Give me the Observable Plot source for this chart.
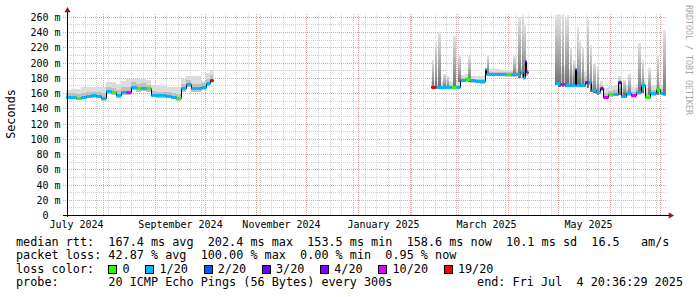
<!DOCTYPE html>
<html><head><meta charset="utf-8">
<script src="https://cdn.jsdelivr.net/npm/d3@7"></script>
<script src="https://cdn.jsdelivr.net/npm/@observablehq/plot@0.6"></script>
<style>
html,body{margin:0;padding:0;background:#fff;}
svg text{font-family:"DejaVu Sans Mono",monospace;}
</style></head><body><div id="chart"></div>
<script>
// ---------- data ----------
const yTicks = [0,20,40,60,80,100,120,140,160,180,200,220,240,260];
const yMinor = [10,30,50,70,90,110,130,150,170,190,210,230,250];
const xLabels = ["July 2024","September 2024","November 2024","January 2025","March 2025","May 2025"];
const xLabelDates = ["2024-07-16","2024-09-16","2024-11-16","2025-01-16","2025-03-19","2025-05-19"];

// segment 1 (Jul - Oct 2024)
const s1Dates = ["2024-07-10","2024-07-13","2024-07-16","2024-07-19","2024-07-22","2024-07-25","2024-07-28","2024-07-31","2024-08-03","2024-08-06","2024-08-09","2024-08-12","2024-08-15","2024-08-18","2024-08-21","2024-08-24","2024-08-27","2024-08-30","2024-09-02","2024-09-05","2024-09-08","2024-09-11","2024-09-14","2024-09-17","2024-09-20","2024-09-23","2024-09-26","2024-09-29","2024-10-02","2024-10-04"];
const s1End = "2024-10-06";
const s1Median = [155,155,154,155,156.5,157,156,153.5,163,161.5,157.5,162,161,168.5,166,167,166,158,157.5,157,156,155,153,166,172,166,166,167.5,173,177];
const s1Lo  = [152,152,151,152,153,154,153,150,159,158,154,158,157,164,162,163,162,155,154,154,153,152,150,162,168,162,162,164,169,173];
const s1Mid = [160,160,159,160,162,162,161,160,168,167,164,168,168,174,172,173,171,163,162,162,161,160,159,172,177,172,172,173,178,184];
const s1Hi  = [164,165,165,168,168,168,168,168,174,174,172,176,178,178,178,178,177,170,170,169,168,168,168,178,182,182,182,176,186,190];
const s1Loss = [1,1,0,1,1,1,1,1,1,0,1,1,10,1,0,1,0,1,1,1,1,1,0,1,1,1,1,1,1,19];

// segment 2 (Feb - Apr 2025)
const s2Dates = ["2025-02-14","2025-02-17","2025-02-20","2025-02-23","2025-02-26","2025-03-01","2025-03-03","2025-03-06","2025-03-09","2025-03-12","2025-03-15","2025-03-18","2025-03-19","2025-03-22","2025-03-25","2025-03-28","2025-03-31","2025-04-03","2025-04-06","2025-04-08","2025-04-10","2025-04-11","2025-04-12"];
const s2End = "2025-04-13";
const s2Median = [167.7,167.7,167.5,168,168,168,177.5,178,176.5,176,175.5,192,185,185.5,185,185,184.5,184.5,185,188,181,202,187];
const s2Lo  = [165,165,165,165,165,165,174,175,173,173,172,182,182,182,182,182,181,181,182,184,177,185,183];
const s2Mid = [171,171,171,171,171,171,180,181,179,179,178,192,188,188,188,188,187,187,188,191,185,204,191];
const s2Hi  = [176,176,175,176,175,176,184,185,183,182,182,194,191,191,191,190,190,190,191,196,193,210,198];
const s2Loss = [19,1,1,1,0,1,1,0,1,1,1,1,1,1,1,1,0,1,1,1,1,4,10];

// segment 3 (Apr - Jul 2025)
const s3Dates = ["2025-04-29","2025-05-02","2025-05-05","2025-05-08","2025-05-11","2025-05-12","2025-05-14","2025-05-17","2025-05-19","2025-05-21","2025-05-24","2025-05-26","2025-05-28","2025-05-31","2025-06-03","2025-06-06","2025-06-08","2025-06-11","2025-06-14","2025-06-17","2025-06-20","2025-06-22","2025-06-25","2025-06-29","2025-07-01","2025-07-03"];
const s3End = "2025-07-04";
const s3Median = [173,172,170.7,171,192,171,171,175,174,164,162,166,155.3,158.5,159,175,156,159.5,157.6,161.5,170.7,155.3,159.5,165,160,159];
const s3Lo  = [170,169,168,168,188,168,168,172,171,161,159,163,152,155,156,171,153,156,154,158,167,152,156,162,157,156];
const s3Mid = [185,185,183,182,198,180,180,182,180,170,167,170,160,163,164,178,161,164,162,166,175,160,164,170,165,164];
const s3Hi  = [195,195,192,190,203,188,188,190,186,176,172,176,166,169,170,182,167,170,168,172,180,166,170,176,171,170];
const s3Loss = [1,10,1,1,2,1,1,3,1,1,1,4,10,0,1,3,1,1,10,1,1,0,1,0,1,1];

// smoke spikes (max ping rtt)
const spikeDates = ["2025-02-15","2025-02-17","2025-02-19","2025-02-22","2025-02-24","2025-02-28","2025-03-03","2025-03-09","2025-03-20","2025-04-05","2025-04-08","2025-04-10","2025-04-11","2025-04-30","2025-05-01","2025-05-02","2025-05-04","2025-05-06","2025-05-07","2025-05-09","2025-05-11","2025-05-13","2025-05-14","2025-05-16","2025-05-19","2025-05-21","2025-05-23","2025-05-25","2025-06-07","2025-06-10","2025-06-13","2025-06-19","2025-06-21","2025-06-25","2025-06-30","2025-07-04"];
const spikeBase = [166,166,166,166,166,167,175,175,184,183,180,180,180,170,170,168,168,168,168,168,170,170,170,170,166,162,160,158,158,157,157,160,160,157,158,158];
const spikeHi   = [203,227,240,185,183,235,210,208,210,208,260,262,250,262,262,262,262,258,262,221,203,247,230,221,257,223,200,195,182,177,185,225,203,193,210,243];

const lossKeys   = [0,1,2,3,4,10,19];
const lossLabels = ["0","1/20","2/20","3/20","4/20","10/20","19/20"];
const lossColors = ["#26ff00","#00b8ff","#0059ff","#5e00ff","#7e00ff","#dd00ff","#ff0000"];

const legendLine1 = "median rtt:  167.4 ms avg  202.4 ms max  153.5 ms min  158.6 ms now  10.1 ms sd  16.5   am/s";
const legendLine2 = "packet loss: 42.87 % avg  100.00 % max  0.00 % min  0.95 % now";
const legendLine3 = "loss color:";
const legendLine4 = "probe:       20 ICMP Echo Pings (56 Bytes) every 300s";
const endText = "end: Fri Jul  4 20:36:29 2025";
const watermark = "RRDTOOL / TOBI OETIKER";

// ---------- build tables ----------
const lossColor = k => lossColors[lossKeys.indexOf(k)];
function rows(seg, dates, end, med, lo, mid, hi, loss) {
  return dates.map((d, i) => ({
    seg, t: new Date(d), t2: new Date(i + 1 < dates.length ? dates[i + 1] : end),
    med: med[i], lo: lo[i], mid: mid[i], hi: hi[i], c: lossColor(loss[i])
  }));
}
const segs = [
  rows(1, s1Dates, s1End, s1Median, s1Lo, s1Mid, s1Hi, s1Loss),
  rows(2, s2Dates, s2End, s2Median, s2Lo, s2Mid, s2Hi, s2Loss),
  rows(3, s3Dates, s3End, s3Median, s3Lo, s3Mid, s3Hi, s3Loss)
];
const table = segs.flat();
const pts = segs.flatMap(r => [...r, {...r[r.length - 1], t: r[r.length - 1].t2}]);
const spikes = spikeDates.map((d, i) => ({t: new Date(d), base: spikeBase[i], hi: spikeHi[i]}));

const DAY = 864e5;
const start = new Date("2024-07-10T10:00Z"), end = new Date("2025-07-05T10:00Z");
const shift = (d, n) => new Date(+d + n * DAY);
const weeks = d3.utcSunday.range(start, end);
const months = d3.utcMonth.range(start, end);
const fmtY = v => v === 0 ? "0\u00a0\u00a0" : `${v} m`;

const grey = "#d2d2d2", red = "#e8a4a4", arrow = "#8b1c1c";

const chart = Plot.plot({
  width: 697, height: 297,
  marginLeft: 67, marginRight: 30, marginTop: 13, marginBottom: 82,
  x: {type: "utc", domain: [start, end], axis: null, round: true},
  y: {domain: [0, 265], axis: null, round: true},
  color: {type: "identity"},
  style: {background: "#fff", fontFamily: '"DejaVu Sans Mono", monospace', fontSize: "10px", color: "#000"},
  marks: [
    Plot.ruleX(weeks, {y1: 0, y2: 265, stroke: grey, strokeDasharray: "1,1"}),
    Plot.ruleY(yMinor, {x1: start, x2: end, stroke: grey, strokeDasharray: "1,1"}),
    Plot.ruleX(months, {y1: 0, y2: 265, stroke: red, strokeDasharray: "1,1"}),
    Plot.ruleY(yTicks.filter(v => v > 0), {x1: shift(start, -2.4), x2: end, stroke: red, strokeDasharray: "1,1"}),
    // smoke
    Plot.areaY(pts, {x: "t", y1: "lo", y2: "hi", z: "seg", curve: "step-after", fill: "#dcdcdc"}),
    Plot.areaY(pts, {x: "t", y1: "lo", y2: "mid", z: "seg", curve: "step-after", fill: "#bfbfbf"}),
    Plot.rect(spikes, {x1: d => shift(d.t, -0.7), x2: d => shift(d.t, 0.7), y1: "base", y2: "hi", fill: "url(#spk)"}),
    // median
    Plot.line(pts, {x: "t", y: "med", z: "seg", curve: "step-after", stroke: "#000", strokeWidth: 1}),
    Plot.link(table, {x1: "t", x2: "t2", y1: "med", y2: "med", stroke: "c", strokeWidth: 3}),
    // axes
    Plot.ruleY([0], {x1: shift(start, -2.4), x2: shift(end, 1.2), stroke: "#000"}),
    Plot.ruleX([start], {y1: -2.5, y2: 267, stroke: "#000"}),
    Plot.dot([0], {x: shift(end, 1.9), y: 0, symbol: "triangle", r: 2.3, rotate: 90, fill: arrow, stroke: "none"}),
    Plot.dot([0], {x: start, y: 268.6, symbol: "triangle", r: 2.3, fill: arrow, stroke: "none"}),
    Plot.text(yTicks, {x: start, y: d => d, text: fmtY, textAnchor: "end", dx: -7, fill: "#000", fontSize: 10}),
    Plot.text(xLabelDates, {x: d => new Date(d), text: (d, i) => xLabels[i], frameAnchor: "bottom", lineAnchor: "bottom", dy: 12.5, fill: "#000", fontSize: 10})
  ]
});
document.getElementById("chart").appendChild(chart);

// ---------- extras in the svg ----------
const svg = d3.select(chart);
const grad = svg.insert("defs", ":first-child").append("linearGradient")
  .attr("id", "spk").attr("x1", 0).attr("y1", 1).attr("x2", 0).attr("y2", 0);
grad.append("stop").attr("offset", 0).attr("stop-color", "#6e6e6e");
grad.append("stop").attr("offset", 0.4).attr("stop-color", "#a2a2a2");
grad.append("stop").attr("offset", 1).attr("stop-color", "#e4e4e4");

const FS = 11.8, CW = FS * 0.60205, X0 = 16;
const lg = svg.append("g").attr("font-size", FS).attr("fill", "#000")
  .attr("font-family", '"DejaVu Sans Mono", monospace');
const put = (s, x, y, anchor) => lg.append("text").attr("x", x).attr("y", y)
  .attr("text-anchor", anchor || "start").attr("xml:space", "preserve").style("white-space", "pre").text(s);
const baseY = [245.5, 259.1, 272.8, 286.4];
put(legendLine1, X0, baseY[0]);
put(legendLine2, X0, baseY[1]);
put(legendLine3, X0, baseY[2]);
put(legendLine4, X0, baseY[3]);
put(endText, 683, baseY[3], "end");
let pos = 13;
lossLabels.forEach((lab, i) => {
  lg.append("rect").attr("x", Math.round(X0 + pos * CW) + 0.5).attr("y", 265.5)
    .attr("width", 8).attr("height", 8).attr("fill", lossColors[i]).attr("stroke", "#000").attr("stroke-width", 1);
  put(lab, X0 + (pos + 2) * CW, baseY[2]);
  pos += 2 + lab.length + 2.2;
});
svg.append("text").attr("transform", "translate(15,114) rotate(-90)").attr("text-anchor", "middle")
  .attr("font-size", FS).attr("fill", "#000").text("Seconds");
svg.append("text").attr("transform", "translate(685.5,5) rotate(90)").attr("text-anchor", "start")
  .attr("font-size", 8.3).attr("fill", "#a8a8a8").text(watermark);
</script></body></html>
